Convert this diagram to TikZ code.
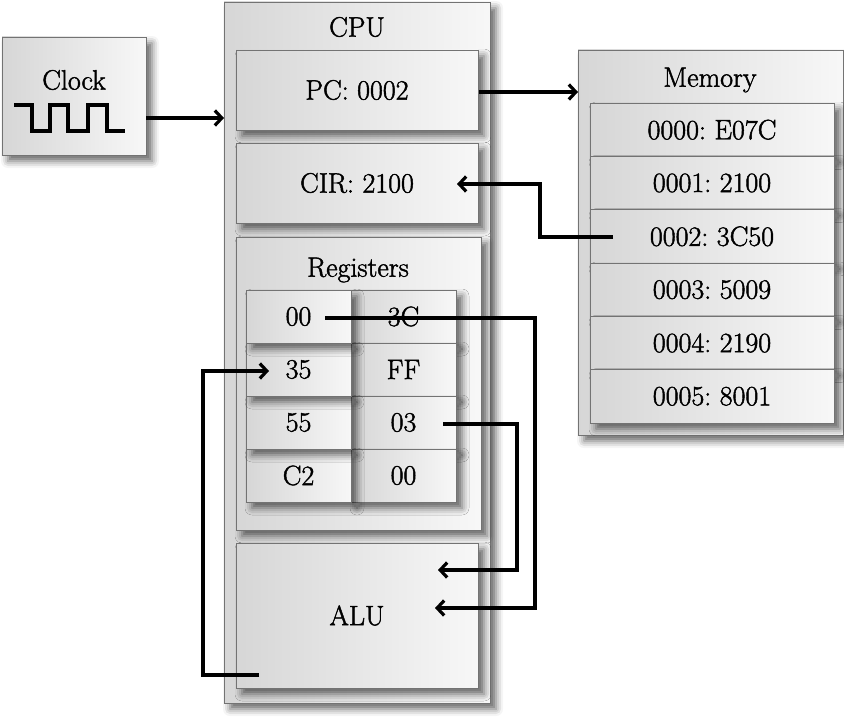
\documentclass[tikz,border=0pt]{standalone}
\usepackage{fontspec}
\newfontfamily\lblfont[FakeBold=1.6]{Latin Modern Roman}
\frenchspacing
\usetikzlibrary{arrows.meta,shadows.blur,calc}
\begin{document}
\begin{tikzpicture}[x=1pt,y=-1pt,
  box/.style={draw=black!55, line width=0.8pt, left color=black!16, right color=black!3,
    blur shadow={shadow xshift=6pt, shadow yshift=-6pt, shadow blur radius=7pt, shadow opacity=60},
    inner sep=0pt, outer sep=0pt},
  cell/.style={box, minimum width=105pt, minimum height=53pt},
  mcell/.style={box, minimum width=244pt, minimum height=53.33pt},
  lbl/.style={font=\lblfont\fontsize{28}{32}\selectfont, inner sep=0pt},
  arr/.style={line width=3.2pt, -{Straight Barb[length=7pt,width=15pt]}},
  wire/.style={line width=3.2pt}]
\useasboundingbox (0,0) rectangle (844,717);
% Clock
\node[box, minimum width=144pt, minimum height=118pt] (clock) at (74,96) {};
\node[lbl] (clocklbl) at (74,80) {Clock};
\draw[wire] (14,105) -- (32,105) -- (32,131) -- (50,131) -- (50,105) -- (68,105) -- (68,131)
  -- (88,131) -- (88,105) -- (107,105) -- (107,131) -- (125,131);
% CPU
\node[box, minimum width=266pt, minimum height=701pt] (cpu) at (357,352.5) {};
\node[lbl] (cpulbl) at (357,27) {CPU};
\node[box, minimum width=242pt, minimum height=80pt, lbl] (pc) at (357,90) {PC: 0002};
\node[box, minimum width=242pt, minimum height=80pt, lbl] (cir) at (357,183) {CIR: 2100};
\node[box, minimum width=245pt, minimum height=293pt] (regs) at (358.5,383.5) {};
\node[lbl] (regslbl) at (358,270) {Registers};
\node[cell, lbl] (r01) at (403.5,316.5) {3C};
\node[cell, lbl] (r11) at (403.5,369.5) {FF};
\node[cell, lbl] (r21) at (403.5,422.5) {03};
\node[cell, lbl] (r31) at (403.5,475.5) {00};
\node[cell, lbl] (r30) at (298.5,475.5) {C2};
\node[cell, lbl] (r20) at (298.5,422.5) {55};
\node[cell, lbl] (r10) at (298.5,369.5) {35};
\node[cell, lbl] (r00) at (298.5,316.5) {00};
\node[box, minimum width=242pt, minimum height=145pt, lbl] (alu) at (357,615.5) {ALU};
% Memory
\node[box, minimum width=265pt, minimum height=385pt] (mem) at (710.5,242.5) {};
\node[lbl] (memlbl) at (710,80) {Memory};
\node[mcell, lbl] (m0) at (712,129.7) {0000: E07C};
\node[mcell, lbl] (m1) at (712,183.0) {0001: 2100};
\node[mcell, lbl] (m2) at (712,236.3) {0002: 3C50};
\node[mcell, lbl] (m3) at (712,289.7) {0003: 5009};
\node[mcell, lbl] (m4) at (712,343.0) {0004: 2190};
\node[mcell, lbl] (m5) at (712,396.3) {0005: 8001};
% connector ends
\coordinate (clkout) at (146,118);
\coordinate (pcout) at (479,92);
\coordinate (m2out) at (613,237);
\coordinate (cirin) at (457,184);
\coordinate (r00out) at (325,318);
\coordinate (r03out) at (443,424);
\coordinate (aluin1) at (438,570);
\coordinate (aluin2) at (435,608);
\coordinate (aluout) at (259,675);
\coordinate (r35in) at (269,371);
% connectors
\draw[arr] (clkout) -- (clkout -| cpu.west);
\draw[arr] (pcout) -- (pcout -| mem.west);
\draw[arr] (m2out) -- ++(-73,0) |- (cirin);
\draw[arr] (r00out) -- ++(210,0) |- (aluin2);
\draw[arr] (r03out) -- ++(74,0) |- (aluin1);
\draw[arr] (aluout) -- (203,675) |- (r35in);
\end{tikzpicture}
\end{document}
